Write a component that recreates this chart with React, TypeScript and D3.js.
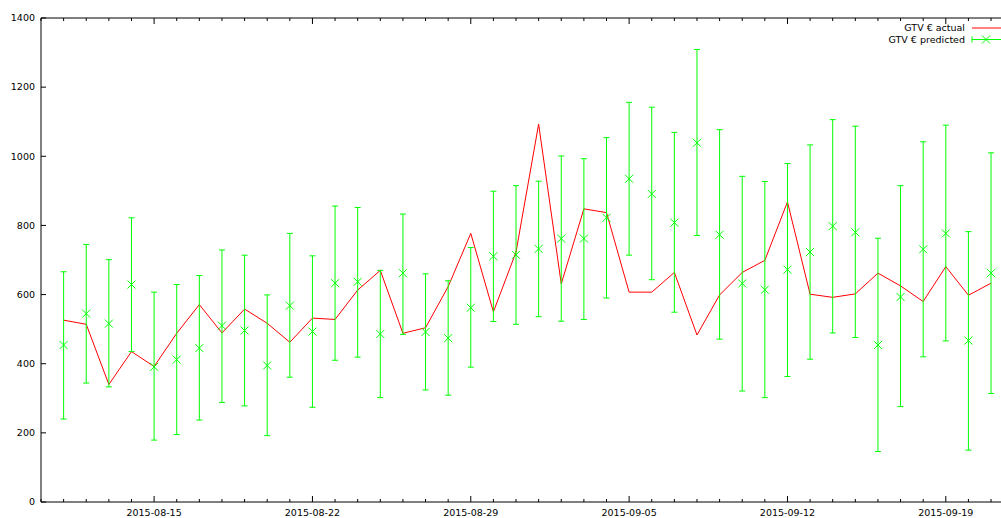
import React from "react";
import * as d3 from "d3";

const dates: string[] = [
  "2015-08-11","2015-08-12","2015-08-13","2015-08-14","2015-08-15","2015-08-16","2015-08-17",
  "2015-08-18","2015-08-19","2015-08-20","2015-08-21","2015-08-22","2015-08-23","2015-08-24",
  "2015-08-25","2015-08-26","2015-08-27","2015-08-28","2015-08-29","2015-08-30","2015-08-31",
  "2015-09-01","2015-09-02","2015-09-03","2015-09-04","2015-09-05","2015-09-06","2015-09-07",
  "2015-09-08","2015-09-09","2015-09-10","2015-09-11","2015-09-12","2015-09-13","2015-09-14",
  "2015-09-15","2015-09-16","2015-09-17","2015-09-18","2015-09-19","2015-09-20","2015-09-21",
];

const actual: number[] = [
  526, 514, 340, 435, 392, 488, 571,
  489, 558, 517, 462, 532, 528, 613,
  670, 488, 504, 623, 777, 550, 723,
  1093, 631, 848, 837, 607, 607, 664,
  483, 599, 664, 699, 868, 601, 592,
  602, 662, 625, 580, 681, 598, 633,
];

const predicted: number[] = [
  454, 545, 516, 629, 391, 412, 445,
  510, 496, 395, 568, 493, 633, 637,
  486, 662, 492, 474, 562, 711, 715,
  732, 762, 762, 822, 935, 891, 808,
  1039, 773, 632, 614, 672, 723, 798,
  780, 454, 593, 731, 777, 467, 662,
];

const predLow: number[] = [
  240, 344, 333, 435, 179, 195, 237,
  288, 278, 192, 361, 274, 410, 419,
  302, 485, 324, 309, 390, 522, 514,
  536, 523, 528, 590, 714, 643, 549,
  771, 471, 321, 302, 363, 413, 489,
  476, 146, 276, 420, 466, 150, 314,
];

const predHigh: number[] = [
  666, 745, 701, 822, 607, 629, 655,
  729, 714, 599, 777, 712, 856, 852,
  670, 833, 660, 640, 736, 899, 915,
  928, 1001, 993, 1054, 1156, 1142, 1069,
  1309, 1077, 942, 927, 979, 1033, 1106,
  1087, 763, 915, 1042, 1090, 782, 1010,
];

const yTicks: number[] = [0, 200, 400, 600, 800, 1000, 1200, 1400];
const xTickLabels: string[] = ["2015-08-15", "2015-08-22", "2015-08-29", "2015-09-05", "2015-09-12", "2015-09-19"];
const seriesNames: string[] = ["GTV € actual", "GTV € predicted"];

const W = 1001;
const H = 518;
const left = 41;
const top = 18;
const bottom = 502;
const dayPx = 22.62;

const parse = d3.utcParse("%Y-%m-%d");

export default function App() {
  const d0 = parse("2015-08-10") as Date;
  const d1 = parse("2015-09-23") as Date;
  const x = d3.scaleUtc().domain([d0, d1]).range([left, left + 44 * dayPx]);
  const y = d3.scaleLinear().domain([0, 1400]).range([bottom, top]);

  const pts = dates.map((s, i) => ({
    d: parse(s) as Date,
    a: actual[i],
    p: predicted[i],
    lo: predLow[i],
    hi: predHigh[i],
  }));

  const line = d3
    .line<{ d: Date; a: number }>()
    .x((p) => x(p.d))
    .y((p) => y(p.a));

  const days = d3.utcDay.range(d0, d1);
  const majorSet = new Set(xTickLabels);
  const fmt = d3.utcFormat("%Y-%m-%d");
  const green = "#00ff00";
  const font = "DejaVu Sans, sans-serif";
  const fs = 9.5;
  const cap = 3;
  const mk = 4;

  const cross = (cx: number, cy: number, key: string) => (
    <g key={key} stroke={green} strokeWidth={1}>
      <line x1={cx - mk} y1={cy - mk} x2={cx + mk} y2={cy + mk} />
      <line x1={cx - mk} y1={cy + mk} x2={cx + mk} y2={cy - mk} />
    </g>
  );

  return (
    <svg
      width={W}
      height={H}
      style={{ position: "absolute", left: 0, top: 0, background: "#fff" }}
      fontFamily={font}
      fontSize={fs}
    >
      <rect x={0} y={0} width={W} height={H} fill="#fff" />
      <g stroke="#000" strokeWidth={1} fill="none">
        <line x1={left} y1={top} x2={W + 10} y2={top} />
        <line x1={left} y1={bottom} x2={W + 10} y2={bottom} />
        <line x1={left} y1={top} x2={left} y2={bottom} />
      </g>
      {yTicks.map((t) => (
        <g key={"y" + t}>
          <line x1={left} x2={left + 5} y1={y(t)} y2={y(t)} stroke="#000" />
          <text x={left - 6} y={y(t)} dy="0.35em" textAnchor="end" fill="#000">
            {t}
          </text>
        </g>
      ))}
      {days.map((d) => {
        const s = fmt(d);
        const major = majorSet.has(s);
        const len = major ? 6 : 3;
        const xx = x(d);
        return (
          <g key={"x" + s}>
            <line x1={xx} x2={xx} y1={bottom} y2={bottom - len} stroke="#000" />
            <line x1={xx} x2={xx} y1={top} y2={top + len} stroke="#000" />
            {major && (
              <text x={xx} y={513} dy="0.35em" textAnchor="middle" fill="#000">
                {s}
              </text>
            )}
          </g>
        );
      })}
      <path d={line(pts) || ""} fill="none" stroke="#ff0000" strokeWidth={1} />
      {pts.map((p, i) => {
        const xx = x(p.d);
        return (
          <g key={"e" + i} stroke={green} strokeWidth={1}>
            <line x1={xx} x2={xx} y1={y(p.lo)} y2={y(p.hi)} />
            <line x1={xx - cap} x2={xx + cap} y1={y(p.lo)} y2={y(p.lo)} />
            <line x1={xx - cap} x2={xx + cap} y1={y(p.hi)} y2={y(p.hi)} />
          </g>
        );
      })}
      {pts.map((p, i) => cross(x(p.d), y(p.p), "m" + i))}
      <g>
        <text x={965} y={28} dy="0.35em" textAnchor="end" fill="#000">
          {seriesNames[0]}
        </text>
        <line x1={972} x2={1010} y1={28} y2={28} stroke="#ff0000" />
        <text x={965} y={39.5} dy="0.35em" textAnchor="end" fill="#000">
          {seriesNames[1]}
        </text>
        <g stroke={green}>
          <line x1={972} x2={1010} y1={39.5} y2={39.5} />
          <line x1={972} x2={972} y1={36.5} y2={42.5} />
        </g>
        {cross(986, 39.5, "legm")}
      </g>
    </svg>
  );
}
